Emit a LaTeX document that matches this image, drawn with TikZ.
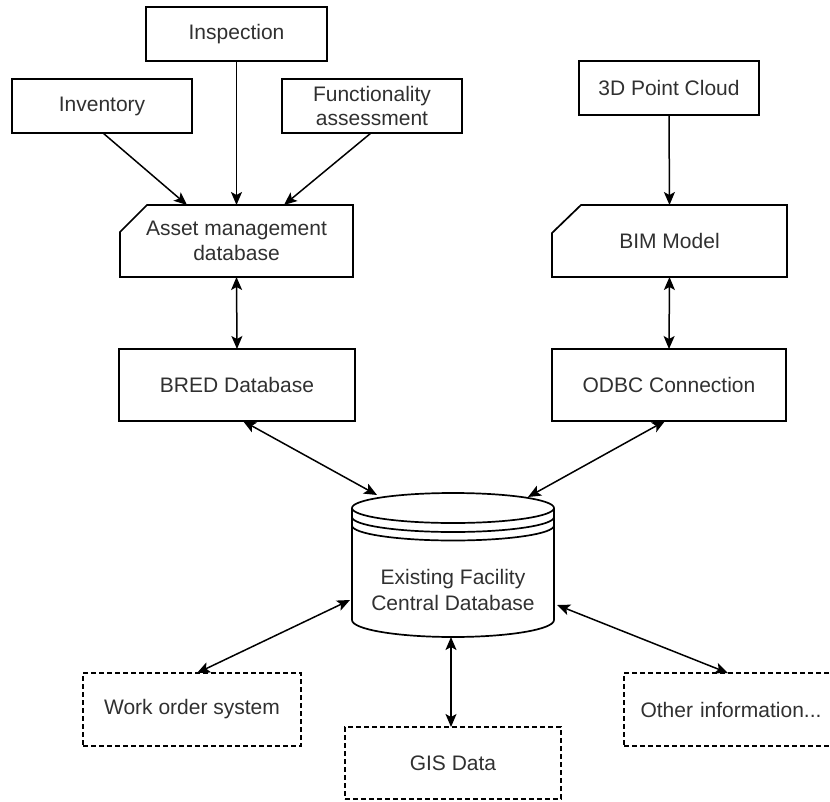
\documentclass[tikz,border=0pt]{standalone}
\usepackage{fontspec}
\setmainfont{Liberation Sans}
\usetikzlibrary{arrows.meta,calc}
\definecolor{txt}{HTML}{303030}
\begin{document}
\begin{tikzpicture}[x=1pt,y=-1pt,
  every node/.style={font=\fontsize{21}{24.5}\selectfont, text=txt, inner sep=0pt, outer sep=0pt, align=center},
  ln/.style={line width=1.7pt, draw=black},
  solidbox/.style={ln, rectangle},
  dashbox/.style={ln, rectangle, dash pattern=on 5pt off 3pt},
  tip/.style={},
  conn/.style={line width=1.5pt, -{Stealth[length=13pt,width=11pt,inset=3pt]}},
  bconn/.style={line width=1.5pt, {Stealth[length=13pt,width=11pt,inset=3pt]}-{Stealth[length=13pt,width=11pt,inset=3pt]}}
]
\useasboundingbox (0,0) rectangle (830,801);
\clip (0,0) rectangle (830,801);

% top boxes
\node[solidbox, minimum width=181pt, minimum height=54pt] (insp) at (236.5,34) {Inspection};
\node[solidbox, minimum width=180pt, minimum height=54pt] (inv) at (102,106) {Inventory};
\node[solidbox, minimum width=180pt, minimum height=54pt] (func) at (372,106) {Functionality\\assessment};
\node[solidbox, minimum width=180pt, minimum height=54pt] (pc) at (669,88) {3D Point Cloud};

% cut-corner boxes
\node[minimum width=233pt, minimum height=72pt] (asset) at (236.5,241) {Asset management\\database};
\draw[ln] ([xshift=27pt]asset.north west) -- (asset.north east) -- (asset.south east) -- (asset.south west) -- ([yshift=-27pt]asset.north west) -- cycle;
\node[minimum width=235pt, minimum height=72pt] (bim) at (669.5,241) {BIM Model};
\draw[ln] ([xshift=29pt]bim.north west) -- (bim.north east) -- (bim.south east) -- (bim.south west) -- ([yshift=-28pt]bim.north west) -- cycle;

% middle boxes
\node[solidbox, minimum width=236pt, minimum height=72pt] (bred) at (237,385) {BRED Database};
\node[solidbox, minimum width=234pt, minimum height=72pt] (odbc) at (669,385) {ODBC Connection};

% cylinder
\node[minimum width=202pt, minimum height=144pt] (db) at (453,565) {};
\draw[ln] (453,508) ellipse [x radius=101pt, y radius=15pt];
\draw[ln] (352,517) arc[start angle=180, end angle=360, x radius=101pt, y radius=15pt];
\draw[ln] (352,525.5) arc[start angle=180, end angle=360, x radius=101pt, y radius=15pt];
\draw[ln] (352,508) -- (352,620) arc[start angle=180, end angle=360, x radius=101pt, y radius=17pt] -- (554,508);
\node (dbtext) at (453,590) {Existing Facility\\[1.5pt]Central Database};

% bottom dashed boxes
\node[dashbox, minimum width=218pt, minimum height=73pt] (wo) at (192,709.5) {Work order system};
\node[dashbox, minimum width=216pt, minimum height=72pt] (gis) at (453,763) {GIS Data};
\node[dashbox, minimum width=218pt, minimum height=73pt, text width=200pt] (oth) at (733,709.5) {\hspace*{-4pt}Other information...};

% connector points on the cylinder
\coordinate (dbA) at ($(db.north west)+(25,2)$);
\coordinate (dbB) at ($(db.north east)+(-26,4)$);
\coordinate (dbL) at ($(db.north west)+(-2,107)$);
\coordinate (dbR) at ($(db.north east)+(3,112)$);
\coordinate (dbS) at ($(db.south)+(-2,0)$);

% connectors
\draw[conn] ($(inv.south)+(1,0)$) -- ($(asset.north)+(-49.5,0)$);
\draw[conn] (insp.south) -- (asset.north);
\draw[conn] ($(func.south)+(-1,0)$) -- ($(asset.north)+(47.5,0)$);
\draw[conn] (pc.south) -- (bim.north);
\draw[bconn] (asset.south) -- (bred.north);
\draw[bconn] (bim.south) -- (odbc.north);
\draw[bconn] ($(bred.south)+(6,0)$) -- (dbA);
\draw[bconn] ($(odbc.south)+(-4,0)$) -- (dbB);
\draw[bconn] (dbL) -- ($(wo.north)+(5,0)$);
\draw[bconn] (dbS) -- ($(gis.north)+(-2,0)$);
\draw[bconn] (dbR) -- ($(oth.north)+(-5,0)$);
\end{tikzpicture}
\end{document}
